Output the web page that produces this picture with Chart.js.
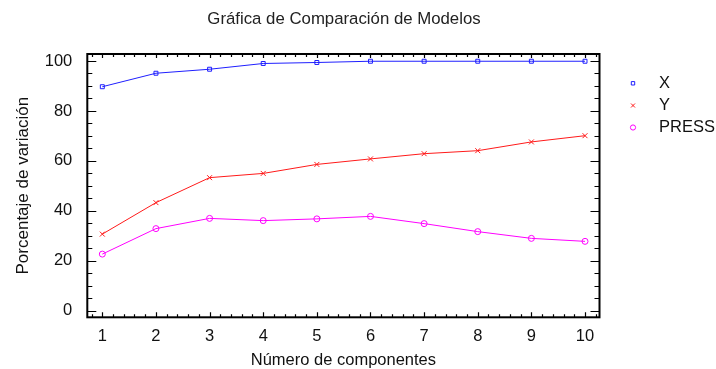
<!DOCTYPE html>
<html>
<head>
<meta charset="utf-8">
<script src="https://cdn.jsdelivr.net/npm/chart.js@4/dist/chart.umd.min.js"></script>
<style>
  html, body { margin: 0; padding: 0; background: #fff; }
  #wrap { width: 716px; height: 369px; }
</style>
</head>
<body>
<div id="wrap"><canvas id="c" width="716" height="369"></canvas></div>
<script>
// Model comparison: % variation explained by number of components
const components = [1, 2, 3, 4, 5, 6, 7, 8, 9, 10];
const seriesX = [89.7, 95.1, 96.7, 99.0, 99.4, 99.9, 99.9, 99.9, 99.9, 99.9];
const seriesY = [30.7, 43.3, 53.3, 55.0, 58.6, 60.8, 62.9, 64.1, 67.6, 70.1];
const seriesPress = [22.7, 32.9, 37.0, 36.1, 36.8, 37.8, 34.9, 31.7, 29.0, 27.8];
const yTickValues = [0, 20, 40, 60, 80, 100];
const xTickValues = components;
const seriesNames = ['X', 'Y', 'PRESS'];

const titleText = 'Gráfica de Comparación de Modelos';
const xTitle = 'Número de componentes';
const yTitle = 'Porcentaje de variación';

const FONT = '"Liberation Sans", Arial, Helvetica, sans-serif';

function toPoints(vals) {
  return vals.map((v, i) => ({ x: components[i], y: v }));
}

// Frame, inward ticks, title and legend
const framePlugin = {
  id: 'frame',
  afterDraw(chart) {
    const ctx = chart.ctx;
    const a = chart.chartArea;
    const xs = chart.scales.x, ys = chart.scales.y;
    ctx.save();
    ctx.strokeStyle = '#000';
    ctx.lineWidth = 1.2;
    ctx.beginPath();
    // y ticks every 5, major every 20, on left and right sides
    for (let v = 0; v <= 100; v += 5) {
      const py = Math.round(ys.getPixelForValue(v)) + 0.5;
      const len = (v % 20 === 0) ? 9 : 5;
      ctx.moveTo(a.left, py); ctx.lineTo(a.left + len, py);
      ctx.moveTo(a.right, py); ctx.lineTo(a.right - len, py);
    }
    // x ticks every 0.2, major every 1, on bottom and top
    for (let k = 4; k <= 51; k++) {
      const v = k / 5;
      if (v < xs.min || v > xs.max) continue;
      const px = Math.round(xs.getPixelForValue(v)) + 0.5;
      const major = (k % 5 === 0);
      const lb = major ? 5 : 3;
      const lt = major ? 4 : 3;
      ctx.moveTo(px, a.bottom); ctx.lineTo(px, a.bottom - lb);
      ctx.moveTo(px, a.top); ctx.lineTo(px, a.top + lt);
    }
    ctx.stroke();
    ctx.lineWidth = 2;
    ctx.strokeRect(a.left, a.top, a.right - a.left, a.bottom - a.top);

    // chart title
    ctx.fillStyle = '#222';
    ctx.font = '16.8px ' + FONT;
    ctx.textAlign = 'center';
    ctx.textBaseline = 'middle';
    ctx.fillText(titleText, 344, 19.5);

    // legend
    const lx = 633, ly = [83.3, 105.5, 127.5];
    ctx.font = '16.5px ' + FONT;
    ctx.textAlign = 'left';
    ctx.fillStyle = '#111';
    chart.data.datasets.forEach((ds, i) => {
      const y = ly[i];
      ctx.strokeStyle = ds.borderColor;
      ctx.lineWidth = 1;
      ctx.beginPath();
      if (ds.pointStyle === 'rect') {
        ctx.rect(lx - 1.7, y - 1.7, 3.4, 3.4);
      } else if (ds.pointStyle === 'crossRot') {
        ctx.moveTo(lx - 2, y - 2); ctx.lineTo(lx + 2, y + 2);
        ctx.moveTo(lx - 2, y + 2); ctx.lineTo(lx + 2, y - 2);
      } else {
        ctx.arc(lx, y, 2.6, 0, Math.PI * 2);
      }
      ctx.stroke();
      ctx.fillText(ds.label, 659, y);
    });
    ctx.restore();
  }
};

const ds = (label, vals, color, style, r) => ({
  label: label,
  data: toPoints(vals),
  borderColor: color,
  backgroundColor: 'transparent',
  borderWidth: 1,
  pointStyle: style,
  pointRadius: r,
  pointBorderWidth: 1,
  pointBackgroundColor: 'transparent',
  pointBorderColor: color,
  tension: 0
});

new Chart(document.getElementById('c'), {
  type: 'line',
  data: {
    datasets: [
      ds(seriesNames[0], seriesX, '#1f1fff', 'rect', 2.8),
      ds(seriesNames[1], seriesY, '#ff1a1a', 'crossRot', 3.5),
      ds(seriesNames[2], seriesPress, '#ff00ff', 'circle', 3)
    ]
  },
  options: {
    responsive: false,
    animation: false,
    devicePixelRatio: 1,
    layout: { padding: { top: 54, right: 116.5, left: 0, bottom: 0 } },
    plugins: {
      legend: { display: false },
      title: { display: false },
      tooltip: { enabled: false }
    },
    scales: {
      x: {
        type: 'linear',
        min: 0.72,
        max: 10.27,
        grid: { display: false },
        border: { display: false },
        afterBuildTicks: s => { s.ticks = xTickValues.map(v => ({ value: v })); },
        afterFit: s => { s.height = 51.7; },
        ticks: {
          padding: 1,
          color: '#111',
          font: { family: FONT, size: 16.5 },
          maxRotation: 0,
          autoSkip: false
        },
        title: {
          display: true,
          text: xTitle,
          color: '#111',
          font: { family: FONT, size: 16.5 },
          padding: { top: 0, bottom: -1 }
        }
      },
      y: {
        type: 'linear',
        min: -2.6,
        max: 102.8,
        grid: { display: false },
        border: { display: false },
        afterBuildTicks: s => { s.ticks = yTickValues.map(v => ({ value: v })); },
        afterFit: s => { s.width = 87.3; },
        ticks: {
          padding: 7,
          color: '#111',
          font: { family: FONT, size: 16.5 },
          autoSkip: false
        },
        title: {
          display: true,
          text: yTitle,
          color: '#111',
          font: { family: FONT, size: 17 },
          padding: { top: 13, bottom: 13 }
        }
      }
    }
  },
  plugins: [framePlugin]
});
</script>
</body>
</html>
